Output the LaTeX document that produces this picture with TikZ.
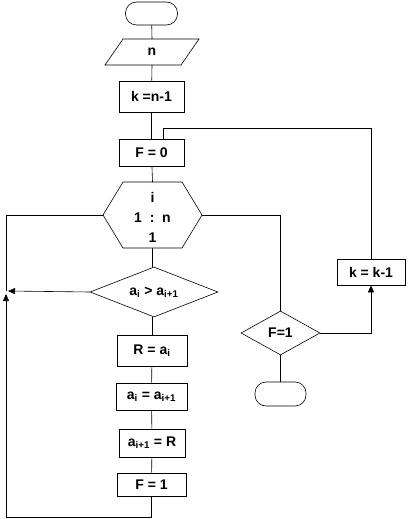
\documentclass[tikz,border=0pt]{standalone}
\usepackage{fontspec}
\setmainfont{Liberation Sans}
\usepackage{tikz}
\usetikzlibrary{shapes.geometric, arrows.meta}

\begin{document}
\begin{tikzpicture}[x=1pt, y=1pt,
    line width=0.6pt,
    every node/.style={font=\fontsize{14}{16}\selectfont\bfseries, inner sep=0pt},
    blockbox/.style={draw, rectangle, minimum width=#1},
    termbox/.style={draw, rectangle, rounded corners=11pt, minimum width=52pt, minimum height=23pt},
    tip/.style={-{Triangle[length=7pt, width=6pt]}}]
    \useasboundingbox (0,0) rectangle (408,-519);
    % main column
    \node[termbox] (start) at (151.5,-13.5) {};
    \draw (105,-65) -- (123,-39) -- (199,-39) -- (181,-65) -- cycle;
    \node (input) at (152,-52) {n};
    \node[blockbox=65pt, minimum height=31pt] (kn) at (151.5,-96.5) {k =n-1};
    \node[blockbox=65pt, minimum height=27pt] (fzero) at (151.5,-152.5) {F = 0};
    % loop header
    \coordinate (hexL) at (103,-215);
    \coordinate (hexR) at (202,-215);
    \coordinate (hexT) at (152.5,-182);
    \coordinate (hexB) at (152.5,-248);
    \draw (hexL) -- (123,-182) -- (182,-182) -- (hexR) -- (182,-248) -- (123,-248) -- cycle;
    \node[align=center, font=\fontsize{14}{20}\selectfont\bfseries] (loop) at (152.5,-217) {i\\1\ \ :\ \ n\\1};
    \node[draw, diamond, minimum width=128pt, minimum height=50pt, aspect=2.5] (cond) at (154,-292)
        {a\textsubscript{i} > a\textsubscript{i+1}};
    \node[blockbox=70pt, minimum height=31pt] (rset) at (152,-350.5) {R = a\textsubscript{i}};
    \node[blockbox=71pt, minimum height=27pt] (swapa) at (151.5,-396.5) {a\textsubscript{i} = a\textsubscript{i+1}};
    \node[blockbox=66pt, minimum height=28pt] (swapb) at (152,-443) {a\textsubscript{i+1} = R};
    \node[blockbox=69pt, minimum height=23pt] (fone) at (151.5,-484.5) {F = 1};
    % right branch
    \node[draw, diamond, minimum width=79pt, minimum height=44pt, aspect=1.8] (fcheck) at (280.5,-333) {F=1};
    \node[termbox, minimum width=51pt, minimum height=24pt] (stop) at (280.5,-394) {};
    \node[blockbox=68pt, minimum height=26pt] (kdec) at (371,-272) {k = k-1};

    \draw (start) -- (152,-39);
    \draw (152,-65) -- (kn);
    \draw (kn) -- (fzero);
    \draw (fzero) -- (hexT);
    \draw (hexB) -- (cond.north -| hexB);
    \draw (cond.south -| rset) -- (rset);
    \draw (rset) -- (swapa);
    \draw (swapa) -- (swapb);
    \draw (swapb) -- (fone);
    % loop back
    \coordinate (lb) at (6,-517);
    \coordinate (lj) at (6,-291);
    \coordinate (lt) at (6,-215);
    \draw[tip] (fone.south) |- (lb) -- ([yshift=-3pt]lj);
    \draw (lj) -- (lt) -- (hexL);
    \draw[tip] (cond.west) -- ([xshift=2pt]lj);
    % loop exit
    \draw (hexR) -| (fcheck.north);
    \draw (fcheck) -- (stop);
    \draw[tip] (fcheck.east) -| (kdec.south);
    \coordinate (ret) at (163,-128);
    \draw (kdec.north) |- (ret) -- (ret |- fzero.north);
\end{tikzpicture}
\end{document}
